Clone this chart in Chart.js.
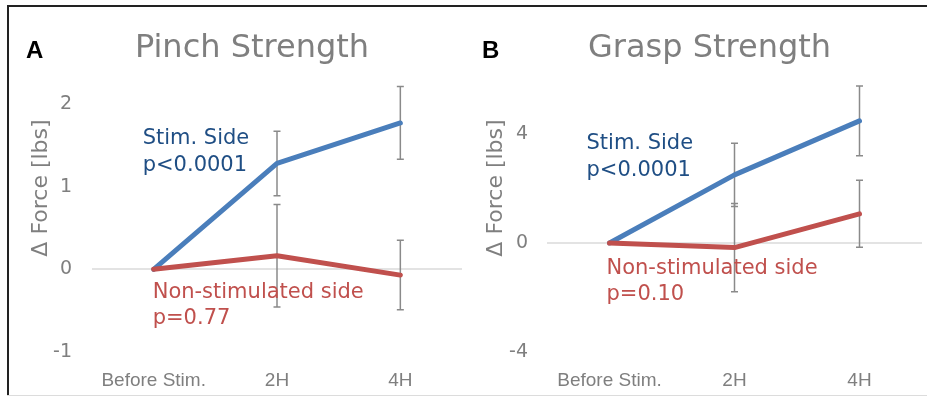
<!DOCTYPE html>
<html>
<head>
<meta charset="utf-8">
<script src="https://cdn.jsdelivr.net/npm/chart.js@4.4.1/dist/chart.umd.min.js"></script>
<style>
  body { margin: 0; background: #fff; }
  #wrap { position: relative; width: 927px; height: 397px; overflow: hidden; }
  canvas { position: absolute; }
  #cA { left: 8px; top: 5px; }
  #cB { left: 470px; top: 5px; }
  .frameTop { position: absolute; left: 7px; top: 5px; width: 920px; height: 2px; background: #222; }
  .frameLeft { position: absolute; left: 7px; top: 5px; width: 2px; height: 391px; background: #222; }
  .frameBottom { position: absolute; left: 7px; top: 395px; width: 920px; height: 1px; background: #dcdcdc; }
</style>
</head>
<body>
<div id="wrap">
  <canvas id="cA" width="462" height="390"></canvas>
  <canvas id="cB" width="457" height="390"></canvas>
  <div class="frameTop"></div>
  <div class="frameLeft"></div>
  <div class="frameBottom"></div>
</div>
<script>
// data
const categories = ['Before Stim.', '2H', '4H'];

const pinchStim = [0, 1.28, 1.77];
const pinchStimErr = [0, 0.39, 0.44];
const pinchNon = [0, 0.165, -0.07];
const pinchNonErr = [0, 0.62, 0.42];
const pinchTicks = [-1, 0, 1, 2];

const graspStim = [0, 2.50, 4.48];
const graspStimErr = [0, 1.16, 1.28];
const graspNon = [0, -0.17, 1.07];
const graspNonErr = [0, 1.62, 1.23];
const graspTicks = [-4, 0, 4];

const stimText = ['Stim. Side', 'p<0.0001'];
const pinchNonText = ['Non-stimulated side', 'p=0.77'];
const graspNonText = ['Non-stimulated side', 'p=0.10'];

const BLUE = '#4a7ebb';
const RED = '#c0504d';
const GREY = '#7f7f7f';

Chart.defaults.font.family = 'DejaVu Sans';

// error bars, panel letter, title, axis title, annotations
const panelPlugin = {
  id: 'panel',
  beforeDatasetsDraw(chart, args, opts) {
    const ctx = chart.ctx, x = chart.scales.x, y = chart.scales.y;
    ctx.save();
    ctx.strokeStyle = '#8a8a8a';
    ctx.lineWidth = 1.5;
    chart.data.datasets.forEach(ds => {
      ds.errors.forEach((e, i) => {
        if (!e) return;
        const px = x.getPixelForValue(i);
        const top = y.getPixelForValue(ds.data[i] + e);
        const bot = y.getPixelForValue(ds.data[i] - e);
        ctx.beginPath();
        ctx.moveTo(px, top); ctx.lineTo(px, bot);
        ctx.moveTo(px - 3.5, top); ctx.lineTo(px + 3.5, top);
        ctx.moveTo(px - 3.5, bot); ctx.lineTo(px + 3.5, bot);
        ctx.stroke();
      });
    });
    ctx.restore();
  },
  afterDraw(chart, args, opts) {
    const ctx = chart.ctx, x = chart.scales.x, y = chart.scales.y;
    const area = chart.chartArea;
    ctx.save();
    // panel letter
    ctx.fillStyle = '#000';
    ctx.font = 'bold 24px "Liberation Sans"';
    ctx.textAlign = 'left';
    ctx.textBaseline = 'alphabetic';
    ctx.fillText(opts.letter, opts.letterX, 53);
    // title
    ctx.fillStyle = GREY;
    ctx.font = '32px "DejaVu Sans"';
    ctx.textAlign = 'center';
    ctx.fillText(opts.title, (area.left + area.right) / 2 - 25, 52);
    // y axis title
    ctx.save();
    ctx.translate(opts.yTitleX, 183);
    ctx.rotate(-Math.PI / 2);
    ctx.font = '22px "DejaVu Sans"';
    ctx.fillText('\u0394 Force [lbs]', 0, 0);
    ctx.restore();
    // annotations
    ctx.textAlign = 'left';
    ctx.font = '21px "DejaVu Sans"';
    opts.notes.forEach(n => {
      ctx.fillStyle = n.color;
      const px = x.getPixelForValue(0) + n.dx;
      const py = y.getPixelForValue(n.y);
      n.lines.forEach((t, k) => ctx.fillText(t, px, py + k * n.gap));
    });
    ctx.restore();
  }
};

function makeChart(id, stim, stimErr, non, nonErr, ticks, cfg) {
  new Chart(document.getElementById(id), {
    type: 'line',
    data: {
      labels: categories,
      datasets: [
        { data: non, errors: nonErr, borderColor: RED, borderWidth: 5,
          pointRadius: 0, borderCapStyle: 'round', borderJoinStyle: 'round' },
        { data: stim, errors: stimErr, borderColor: BLUE, borderWidth: 5,
          pointRadius: 0, borderCapStyle: 'round', borderJoinStyle: 'round' }
      ]
    },
    options: {
      responsive: false,
      animation: false,
      devicePixelRatio: 1,
      layout: { padding: { left: 0, right: cfg.padRight, top: cfg.padTop, bottom: 0 } },
      plugins: {
        legend: { display: false },
        tooltip: { enabled: false },
        panel: cfg.panel
      },
      scales: {
        x: {
          offset: true,
          grid: { display: false },
          border: { display: false },
          ticks: { color: GREY, padding: 9, maxRotation: 0,
                   font: { family: 'Liberation Sans', size: 19 } },
          afterFit: s => { s.height = 43; }
        },
        y: {
          min: ticks[0],
          max: cfg.max,
          afterBuildTicks: s => { s.ticks = ticks.map(v => ({ value: v })); },
          grid: {
            drawTicks: false,
            lineWidth: 2,
            color: c => c.tick && c.tick.value === 0 ? '#e3e3e3' : 'rgba(0,0,0,0)'
          },
          border: { display: false },
          ticks: { color: GREY, padding: cfg.tickPad, font: { size: 19 } },
          afterFit: s => { s.width = cfg.yWidth; }
        }
      }
    },
    plugins: [panelPlugin]
  });
}

makeChart('cA', pinchStim, pinchStimErr, pinchNon, pinchNonErr, pinchTicks, {
  max: 2.35, padTop: 70, padRight: 8, yWidth: 84, tickPad: 20,
  panel: {
    letter: 'A', letterX: 18, title: 'Pinch Strength', yTitleX: 39,
    notes: [
      { lines: stimText, color: '#1f4e84', dx: -11, y: 1.52, gap: 27 },
      { lines: pinchNonText, color: RED, dx: -1, y: -0.35, gap: 26 }
    ]
  }
});

makeChart('cB', graspStim, graspStimErr, graspNon, graspNonErr, graspTicks, {
  max: 6.2, padTop: 69, padRight: 5, yWidth: 77, tickPad: 19,
  panel: {
    letter: 'B', letterX: 12, title: 'Grasp Strength', yTitleX: 32,
    notes: [
      { lines: stimText, color: '#1f4e84', dx: -23, y: 3.45, gap: 27 },
      { lines: graspNonText, color: RED, dx: -3, y: -1.14, gap: 26 }
    ]
  }
});
</script>
</body>
</html>
